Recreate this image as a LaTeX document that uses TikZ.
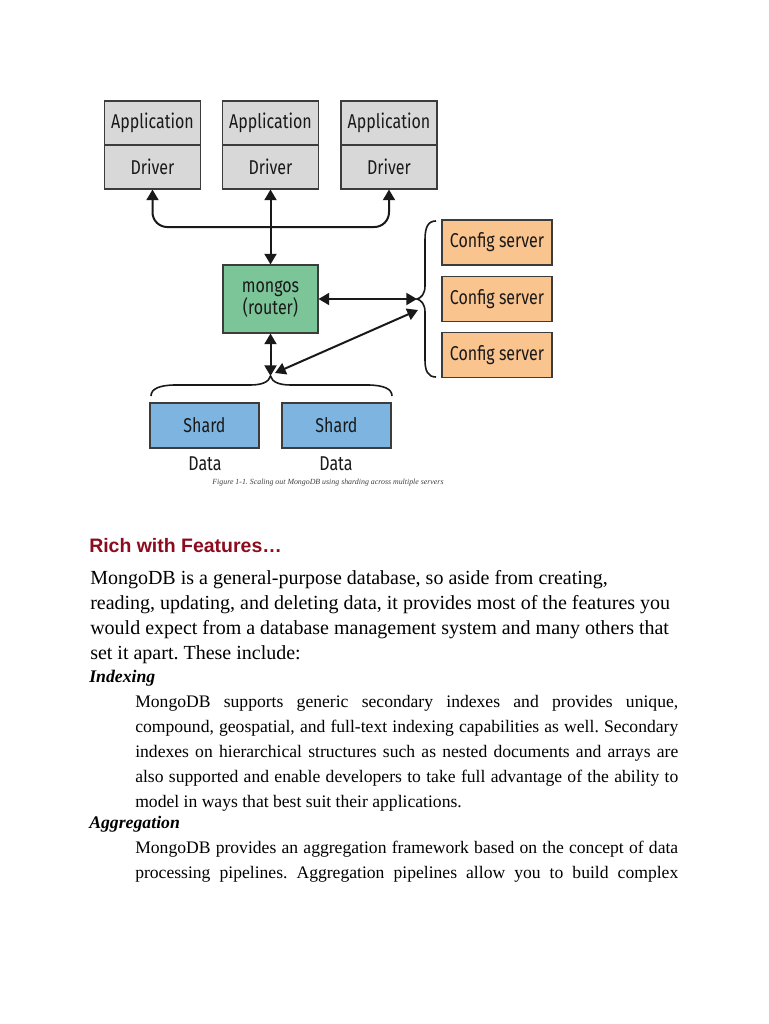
\documentclass[tikz,border=0pt]{standalone}
\usepackage{fontspec}
\setmainfont{Liberation Serif}
\newfontfamily\headfont{Liberation Sans}
\newfontfamily\diagfont[FakeStretch=0.8]{Fira Sans}
\usetikzlibrary{arrows.meta}
\definecolor{boxgray}{RGB}{216,216,216}
\definecolor{boxgreen}{RGB}{124,197,152}
\definecolor{boxorange}{RGB}{250,196,142}
\definecolor{boxblue}{RGB}{126,181,224}
\definecolor{headred}{RGB}{139,12,30}
\definecolor{linegray}{RGB}{60,60,60}
\frenchspacing
\begin{document}
\begin{tikzpicture}[x=0.75pt,y=-0.75pt,
  dbox/.style={draw=linegray, line width=0.8pt, inner sep=0pt, font=\diagfont\fontsize{15pt}{15pt}\selectfont, text=black!90},
  appbox/.style={dbox, fill=boxgray, minimum width=72pt, minimum height=33pt},
  cfgbox/.style={dbox, fill=boxorange, minimum width=82.5pt, minimum height=33.75pt},
  shardbox/.style={dbox, fill=boxblue, minimum width=81.75pt, minimum height=33.75pt},
  routerbox/.style={dbox, fill=boxgreen, minimum width=71.25pt, minimum height=51pt, align=center, font=\diagfont\fontsize{15pt}{15.5pt}\selectfont},
  lbl/.style={inner sep=0pt, font=\diagfont\fontsize{15pt}{15pt}\selectfont, text=black!90},
  arr/.style={line width=1.5pt, black!90, {Triangle[length=8pt,width=9pt]}-{Triangle[length=8pt,width=9pt]}},
  brace/.style={line width=1.2pt, black!90},
  body/.style={inner sep=0pt, anchor=base west, font=\fontsize{15pt}{18.75pt}\selectfont},
  para/.style={inner sep=0pt, anchor=base west, font=\fontsize{13.2pt}{18.75pt}\selectfont},
  subhead/.style={inner sep=0pt, anchor=base west, font=\fontsize{13.3pt}{18.75pt}\selectfont\bfseries\itshape},
]
\fill[white] (0,0) rectangle (768,1024);
\useasboundingbox (0,0) rectangle (768,1024);

% application / driver stacks
\node[appbox] (a1) at (152.5,123) {Application};
\node[appbox] (d1) at (152.5,167) {Driver};
\node[appbox] (a2) at (270.5,123) {Application};
\node[appbox] (d2) at (270.5,167) {Driver};
\node[appbox] (a3) at (389,123) {Application};
\node[appbox] (d3) at (389,167) {Driver};

% router
\node[routerbox] (mongos) at (270.5,299) {mongos\\(router)};

% config servers
\node[cfgbox] (c1) at (497,242.5) {Config server};
\node[cfgbox] (c2) at (497,299) {Config server};
\node[cfgbox] (c3) at (497,355) {Config server};

% shards
\node[shardbox] (s1) at (204.5,425.5) {Shard};
\node[shardbox] (s2) at (336.5,425.5) {Shard};
\node[lbl, anchor=base] (data1) at (205,470) {Data};
\node[lbl, anchor=base] (data2) at (336,470) {Data};

% coordinates
\coordinate (bus) at (270.5,227);
\coordinate (cfgtip) at (417,299);
\coordinate (cfgtip2) at (418,310);
\coordinate (shtip) at (270.5,376);
\coordinate (shtip2) at (275,373);

% braces
\draw[brace] (436,221) .. controls (428,221) and (425,227) .. (425,240) -- (425,286)
  .. controls (425,294) and (421,298) .. (417,299)
  .. controls (421,300) and (425,304) .. (425,312) -- (425,360)
  .. controls (425,371) and (428,377) .. (436,377);
\draw[brace] (151,396) .. controls (151,389) and (159,385) .. (176,385) -- (250,385)
  .. controls (262,385) and (269,382) .. (270.5,376)
  .. controls (272,382) and (279,385) .. (291,385) -- (367,385)
  .. controls (384,385) and (392,389) .. (392,396);

% connectors
\draw[arr, rounded corners=11pt] (d1.south) |- (bus) -| (d3.south);
\draw[arr] (d2.south) -- (mongos.north);
\draw[arr] (mongos.east) -- (cfgtip);
\draw[arr] (cfgtip2) -- (shtip2);
\draw[arr] (mongos.south) -- (shtip);

% caption
\node[inner sep=0pt, anchor=base, font=\fontsize{5.9pt}{6pt}\selectfont\itshape, text=black!75] (cap) at (328,484)
  {Figure 1-1. Scaling out MongoDB using sharding across multiple servers};

% heading
\node[inner sep=0pt, anchor=base west, font=\headfont\bfseries\fontsize{14.6pt}{16pt}\selectfont, text=headred] (head) at (89,552) {Rich with Features…};

% body paragraph
\node[body] (p1) at (90,584) {MongoDB is a general-purpose database, so aside from creating,};
\node[body] (p2) at (90,609) {reading, updating, and deleting data, it provides most of the features you};
\node[body] (p3) at (90,634) {would expect from a database management system and many others that};
\node[body] (p4) at (90,659) {set it apart. These include:};

% Indexing
\node[subhead] (ih) at (89,682) {Indexing};
\node[para] (i1) at (135,707) {\makebox[407.25pt][s]{MongoDB supports generic secondary indexes and provides unique,}};
\node[para] (i2) at (135,732) {\makebox[407.25pt][s]{compound, geospatial, and full-text indexing capabilities as well. Secondary}};
\node[para] (i3) at (135,757) {\makebox[407.25pt][s]{indexes on hierarchical structures such as nested documents and arrays are}};
\node[para] (i4) at (135,782) {\makebox[407.25pt][s]{also supported and enable developers to take full advantage of the ability to}};
\node[para] (i5) at (135,807) {model in ways that best suit their applications.};

% Aggregation
\node[subhead] (ah) at (89,828) {Aggregation};
\node[para] (g1) at (135,853) {\makebox[407.25pt][s]{MongoDB provides an aggregation framework based on the concept of data}};
\node[para] (g2) at (135,878) {\makebox[407.25pt][s]{processing pipelines. Aggregation pipelines allow you to build complex}};
\end{tikzpicture}
\end{document}
